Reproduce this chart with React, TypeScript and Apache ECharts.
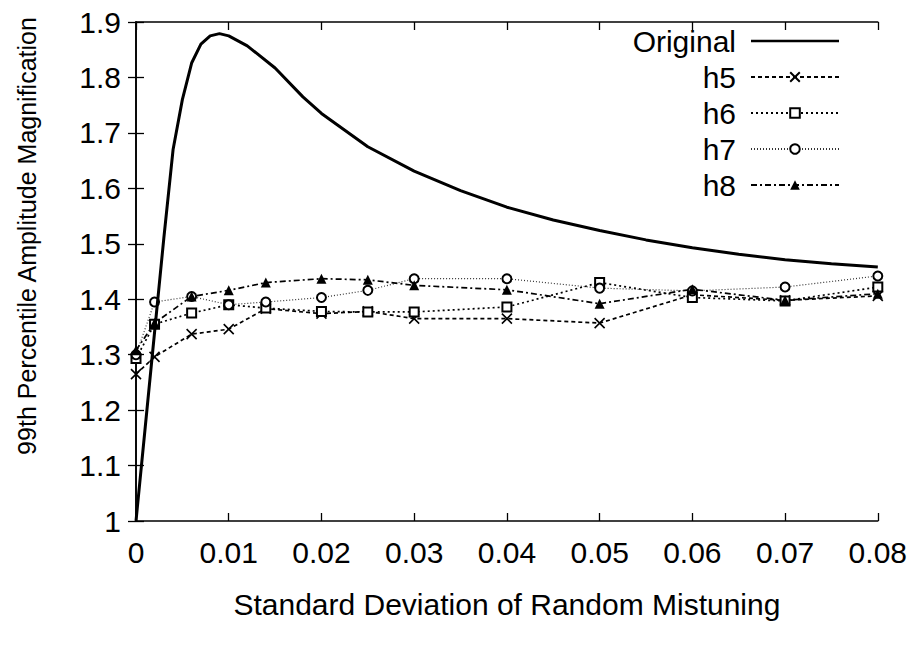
import React, { useEffect, useRef } from "react";
import * as echarts from "echarts";

// x positions of the mistuning samples for h5..h8
const xValues = [0, 0.002, 0.006, 0.01, 0.014, 0.02, 0.025, 0.03, 0.04, 0.05, 0.06, 0.07, 0.08];
const h5Values = [1.265, 1.296, 1.337, 1.346, 1.383, 1.374, 1.378, 1.365, 1.365, 1.357, 1.408, 1.398, 1.406];
const h6Values = [1.293, 1.355, 1.375, 1.39, 1.384, 1.378, 1.377, 1.377, 1.386, 1.43, 1.403, 1.397, 1.422];
const h7Values = [1.3, 1.395, 1.405, 1.39, 1.395, 1.403, 1.416, 1.437, 1.437, 1.42, 1.415, 1.422, 1.442];
const h8Values = [1.308, 1.357, 1.405, 1.416, 1.43, 1.437, 1.435, 1.425, 1.417, 1.392, 1.418, 1.398, 1.41];

// "Original" curve
const originalX = [0, 0.001, 0.002, 0.003, 0.004, 0.005, 0.006, 0.007, 0.008, 0.009, 0.01, 0.012, 0.015, 0.018, 0.02, 0.025, 0.03, 0.035, 0.04, 0.045, 0.05, 0.055, 0.06, 0.065, 0.07, 0.075, 0.08];
const originalY = [1.0, 1.17, 1.34, 1.51, 1.67, 1.76, 1.826, 1.86, 1.875, 1.879, 1.875, 1.857, 1.817, 1.765, 1.735, 1.675, 1.631, 1.596, 1.566, 1.543, 1.524, 1.507, 1.493, 1.481, 1.471, 1.464, 1.458];

const xTicks = ["0", "0.01", "0.02", "0.03", "0.04", "0.05", "0.06", "0.07", "0.08"];
const yTicks = ["1", "1.1", "1.2", "1.3", "1.4", "1.5", "1.6", "1.7", "1.8", "1.9"];

const FONT = "Liberation Sans";
const CROSS = "path://M0,0L10,10M10,0L0,10";

function pairs(xs: number[], ys: number[]) {
  return xs.map((x, i) => [x, ys[i]]);
}

export default function App() {
  const ref = useRef<HTMLDivElement>(null);
  useEffect(() => {
    if (!ref.current) return;
    const chart = echarts.init(ref.current, null, { renderer: "svg" });
    const axisCommon = {
      axisLine: { show: true, lineStyle: { color: "#000", width: 1.6 } },
      axisTick: { show: true, inside: true, length: 8, lineStyle: { color: "#000", width: 1.3 } },
      splitLine: { show: false },
    };
    const xCommon = { type: "value", min: 0, max: 0.08, interval: 0.01, ...axisCommon };
    const yCommon = { type: "value", min: 1, max: 1.9, interval: 0.1, ...axisCommon };
    const thin = { color: "#000", width: 1.7 };
    chart.setOption({
      animation: false,
      backgroundColor: "#fff",
      textStyle: { fontFamily: FONT, color: "#000" },
      grid: { left: 136, right: 30, top: 22, bottom: 125 },
      xAxis: [
        {
          ...xCommon,
          position: "bottom",
          name: "Standard Deviation of Random Mistuning",
          nameLocation: "middle",
          nameGap: 68,
          nameTextStyle: { fontSize: 30, color: "#000", fontFamily: FONT },
          axisLabel: {
            fontSize: 30,
            color: "#000",
            margin: 16,
            formatter: (v: number) => xTicks[Math.round(v * 100)],
          },
        },
        { ...xCommon, position: "top", axisLabel: { show: false } },
      ],
      yAxis: [
        {
          ...yCommon,
          position: "left",
          axisLabel: {
            fontSize: 30,
            color: "#000",
            margin: 15,
            formatter: (v: number) => yTicks[Math.round((v - 1) * 10)],
          },
        },
        { ...yCommon, position: "right", axisLabel: { show: false } },
      ],
      graphic: [
        {
          type: "text",
          x: 27,
          y: 236,
          rotation: Math.PI / 2,
          style: {
            text: "99th Percentile Amplitude Magnification",
            font: `25px "${FONT}"`,
            fill: "#000",
            textAlign: "center",
            textVerticalAlign: "middle",
          },
        },
      ],
      legend: {
        orient: "vertical",
        align: "right",
        right: 70,
        top: 26,
        padding: 0,
        itemWidth: 88,
        itemHeight: 12,
        itemGap: 6,
        textStyle: { fontSize: 30, color: "#000", fontFamily: FONT, padding: [0, 10, 0, 0] },
        data: [
          { name: "Original", icon: "path://M0,0H100V3H0Z", itemStyle: { color: "#000" } },
          { name: "h5" },
          { name: "h6" },
          { name: "h7" },
          { name: "h8" },
        ],
      },
      series: [
        {
          name: "Original",
          type: "line",
          data: pairs(originalX, originalY),
          showSymbol: false,
          symbol: "none",
          lineStyle: { color: "#000", width: 3 },
          itemStyle: { color: "#000" },
          z: 5,
        },
        {
          name: "h5",
          type: "line",
          data: pairs(xValues, h5Values),
          symbol: CROSS,
          symbolSize: 10,
          itemStyle: { color: "#000", borderColor: "#000", borderWidth: 1.6 },
          lineStyle: { ...thin, type: [4, 3] },
        },
        {
          name: "h6",
          type: "line",
          data: pairs(xValues, h6Values),
          symbol: "emptyRect",
          symbolSize: 9,
          itemStyle: { color: "#000", borderColor: "#000", borderWidth: 1.5 },
          lineStyle: { ...thin, type: [2, 3] },
        },
        {
          name: "h7",
          type: "line",
          data: pairs(xValues, h7Values),
          symbol: "emptyCircle",
          symbolSize: 9,
          itemStyle: { color: "#000", borderColor: "#000", borderWidth: 1.5 },
          lineStyle: { color: "#333", width: 1.2, type: [1, 2] },
        },
        {
          name: "h8",
          type: "line",
          data: pairs(xValues, h8Values),
          symbol: "triangle",
          symbolSize: 10,
          itemStyle: { color: "#000" },
          lineStyle: { ...thin, type: [6, 3, 2, 3] },
        },
      ],
    });
    return () => chart.dispose();
  }, []);
  return (
    <div
      ref={ref}
      style={{ position: "fixed", left: 0, top: 0, width: 910, height: 646, background: "#fff" }}
    />
  );
}
